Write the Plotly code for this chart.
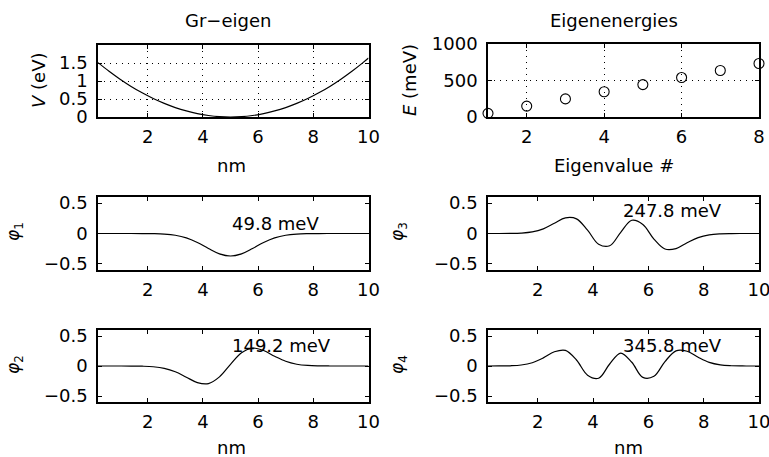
import plotly.graph_objects as go

W, H = 769, 457
FONT = "DejaVu Sans, Liberation Sans, Arial, sans-serif"

# Position grid (nm) shared by the potential and the eigenfunctions
x_nm = [0.2, 0.6, 1.0, 1.4, 1.8, 2.2, 2.6, 3.0, 3.4, 3.8, 4.2, 4.6, 5.0,
        5.4, 5.8, 6.2, 6.6, 7.0, 7.4, 7.8, 8.2, 8.6, 9.0, 9.4, 9.8, 10.0]

# Confining potential V (eV)
v_ev = [1.511, 1.270, 1.050, 0.850, 0.672, 0.514, 0.378, 0.262, 0.168, 0.094,
        0.042, 0.0105, 0.0, 0.0105, 0.042, 0.094, 0.168, 0.262, 0.378, 0.514,
        0.672, 0.850, 1.050, 1.270, 1.511, 1.640]

# Eigenfunctions
phi_1 = [0.0, 0.0, 0.0, 0.0, -0.0005, -0.0025, -0.0094, -0.0288, -0.0722, -0.1475,
         -0.2459, -0.334, -0.37, -0.334, -0.2459, -0.1475, -0.0722, -0.0288,
         -0.0094, -0.0025, -0.0005, 0.0, 0.0, 0.0, 0.0, 0.0]
phi_2 = [0.0, 0.0, 0.0, -0.0005, -0.0031, -0.0123, -0.0386, -0.0961, -0.1868, -0.2763,
         -0.2927, -0.1809, 0.0279, 0.2210, 0.2995, 0.2576, 0.1621, 0.0783,
         0.0296, 0.0089, 0.0021, 0.0004, 0.0, 0.0, 0.0, 0.0]
phi_3 = [0.0, 0.0, 0.0014, 0.007, 0.0265, 0.077, 0.168, 0.257, 0.241, 0.055,
         -0.176, -0.202, 0.0203, 0.2176, 0.149, -0.091, -0.255, -0.2475,
         -0.152, -0.067, -0.022, -0.0056, -0.001, 0.0, 0.0, 0.0]
phi_4 = [0.0, 0.0007, 0.0037, 0.0164, 0.0547, 0.1355, 0.2375, 0.2603, 0.0995, -0.1528,
         -0.2037, 0.0337, 0.216, 0.062, -0.190, -0.1714, 0.0744, 0.253,
         0.2458, 0.1458, 0.0605, 0.0187, 0.0044, 0.0008, 0.0, 0.0]

# Eigenenergies (meV)
eig_index = [1, 2, 3, 4, 5, 6, 7, 8]
eig_mev = [49.8, 149.2, 247.8, 345.8, 443.5, 540.5, 637.0, 733.0]

# Tick labels
nm_ticks = [2, 4, 6, 8, 10]
v_ticks = [0, 0.5, 1, 1.5]
v_ticktext = ["0", "0.5", "1", "1.5"]
e_ticks = [0, 500, 1000]
idx_ticks = [2, 4, 6, 8]
phi_ticks = [-0.5, 0, 0.5]
phi_ticktext = ["\u22120.5", "0", "0.5"]


def px(xp):
    return xp / W


def py(yp):
    return 1 - yp / H


# Panel boxes in pixels: (left, right, top, bottom)
boxes = {
    1: (98, 368.5, 45, 117),     # potential
    2: (488, 759, 44, 117),      # eigenenergies
    3: (98, 368.5, 197, 270),    # phi_1
    4: (488, 759, 197, 270),     # phi_3
    5: (98, 368.5, 330, 402),    # phi_2
    6: (488, 759, 330, 402),     # phi_4
}

fig = go.Figure()

line_style = dict(color="black", width=1.2)
fig.add_trace(go.Scatter(x=x_nm, y=v_ev, mode="lines", line=dict(shape="spline", **line_style),
                         xaxis="x", yaxis="y", showlegend=False))
fig.add_trace(go.Scatter(x=eig_index, y=eig_mev, mode="markers", cliponaxis=False,
                         marker=dict(symbol="circle-open", size=10, color="black",
                                     line=dict(width=1.1, color="black")),
                         xaxis="x2", yaxis="y2", showlegend=False))
for k, phi in zip([3, 4, 5, 6], [phi_1, phi_3, phi_2, phi_4]):
    fig.add_trace(go.Scatter(x=x_nm, y=phi, mode="lines",
                             line=dict(shape="spline", smoothing=1.0, **line_style),
                             xaxis=f"x{k}", yaxis=f"y{k}", showlegend=False))

tickfont = dict(family=FONT, size=18, color="black")
common = dict(showline=True, linecolor="black", linewidth=1.6, mirror="ticks",
              ticks="inside", ticklen=4, tickwidth=1, tickcolor="black",
              zeroline=False, showgrid=False, tickfont=tickfont, automargin=False,
              fixedrange=True, ticklabeloverflow="allow")
grid = dict(showgrid=True, gridcolor="black", gridwidth=1, griddash="1px,5px")

layout_axes = {}
for k, (l, r, t, b) in boxes.items():
    xa = dict(common, domain=[px(l), px(r)], anchor=f"y{k}" if k > 1 else "y",
              ticklabelstandoff=3)
    ya = dict(common, domain=[py(b), py(t)], anchor=f"x{k}" if k > 1 else "x",
              ticklabelstandoff=5)
    if k == 1:
        xa.update(range=[0.2, 10], tickvals=nm_ticks, **grid)
        ya.update(range=[0, 2], tickvals=v_ticks, ticktext=v_ticktext, **grid)
    elif k == 2:
        xa.update(range=[1, 8], tickvals=idx_ticks, **grid)
        ya.update(range=[0, 1000], tickvals=e_ticks, **grid)
    else:
        xa.update(range=[0.2, 10], tickvals=nm_ticks)
        ya.update(range=[-0.6, 0.6], tickvals=phi_ticks, ticktext=phi_ticktext)
    layout_axes["xaxis" if k == 1 else f"xaxis{k}"] = xa
    layout_axes["yaxis" if k == 1 else f"yaxis{k}"] = ya

annotations = []


def label(text, xp, yp, size=18, angle=0, yanchor="middle", yshift=0):
    annotations.append(dict(text=text, x=px(xp), y=py(yp), xref="paper", yref="paper",
                            showarrow=False, xanchor="center", yanchor=yanchor,
                            yshift=yshift, textangle=angle,
                            font=dict(family=FONT, size=size, color="black")))


label("Gr\u2212eigen", 228, 20)
label("Eigenenergies", 614, 20)
label("nm", 231, 165)
label("Eigenvalue #", 614, 165)
label("nm", 231, 457, yanchor="bottom", yshift=-3)
label("nm", 628, 457, yanchor="bottom", yshift=-3)
label("<i>V</i> (eV)", 38, 81, angle=-90)
label("<i>E</i> (meV)", 409, 80, angle=-90)
label("<i>\u03c6</i><sub>1</sub>", 14, 232, size=17, angle=-90)
label("<i>\u03c6</i><sub>3</sub>", 398, 232, size=17, angle=-90)
label("<i>\u03c6</i><sub>2</sub>", 14, 365, size=17, angle=-90)
label("<i>\u03c6</i><sub>4</sub>", 398, 365, size=17, angle=-90)

# Energy labels beside each eigenfunction
for k, n, ytxt in [(3, 0, 0.17), (4, 2, 0.37), (5, 1, 0.34), (6, 3, 0.35)]:
    annotations.append(dict(text=f"{eig_mev[n]:.1f} meV", x=5.0, y=ytxt,
                            xref=f"x{k}", yref=f"y{k}", showarrow=False,
                            xanchor="left", yanchor="middle",
                            font=dict(family=FONT, size=18, color="black")))

fig.update_layout(width=W, height=H, margin=dict(l=0, r=0, t=0, b=0),
                  paper_bgcolor="white", plot_bgcolor="white",
                  annotations=annotations, **layout_axes)

fig.write_html("out.html")
